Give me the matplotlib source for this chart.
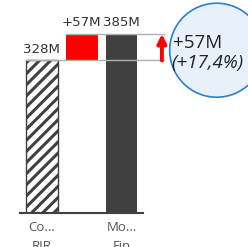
import matplotlib
matplotlib.use("Agg")
import matplotlib.pyplot as plt
from matplotlib.patches import Circle
from matplotlib.transforms import ScaledTranslation

plt.rcParams["font.family"] = ["Open Sans", "DejaVu Sans"]
plt.rcParams["hatch.linewidth"] = 2.2

categories = ["Co…\nRIR", "Mo…\nFin"]
start_value = 328
end_value = 385
delta = end_value - start_value
delta_pct = "(+17,4%)"

dark = "#404040"

fig = plt.figure(figsize=(2.48, 2.47), dpi=100)
ax = fig.add_axes([20 / 248, 34 / 247, 123 / 248, 213 / 247])
ax.set_xlim(-0.554, 2.544)
ax.set_ylim(0, 458)

# bars
ax.bar(0, start_value, width=0.8, color="white", edgecolor=dark,
       hatch="///", linewidth=1.0, zorder=2)
ax.bar(1, delta, bottom=start_value, width=0.8, color="#ff0000", zorder=2)
ax.bar(2, end_value, width=0.8, color=dark, zorder=2)

# connector lines
ax.plot([-0.4, 3.07], [start_value, start_value], color="#b0b0b0",
        lw=1.0, zorder=3, clip_on=False)
ax.plot([0.6, 3.07], [end_value, end_value], color="#b0b0b0",
        lw=1.0, zorder=3, clip_on=False)

# value labels
lab = dict(ha="center", va="bottom", fontsize=9.6, color="#333333",
           family="DejaVu Sans")
ax.text(0, start_value + 10, f"{start_value}M", **lab)
ax.text(1, end_value + 10, f"+{delta}M", **lab)
ax.text(2, end_value + 10, f"{end_value}M", **lab)

# arrow
ax.annotate("", xy=(3.02, end_value), xytext=(3.02, start_value),
            arrowprops=dict(arrowstyle="-|>", color="red", lw=2.8,
                            mutation_scale=13, shrinkA=0, shrinkB=0),
            annotation_clip=False, zorder=4)

# bubble
circ = Circle((0, 0), 0.47, transform=fig.dpi_scale_trans +
              ScaledTranslation(4.40, 350, ax.transData),
              facecolor="#e8f1fa", edgecolor="#2a7fd0", lw=1.2,
              clip_on=False, zorder=1)
ax.add_patch(circ)
ax.text(3.30, 366, f"+{delta}M", ha="left", va="center", fontsize=13.5,
        color="#222222", zorder=5, clip_on=False)
ax.text(3.25, 322, delta_pct, ha="left", va="center", fontsize=13.5,
        style="italic", color="#222222", zorder=5, clip_on=False)

# axes styling
for s in ["top", "right", "left"]:
    ax.spines[s].set_visible(False)
ax.spines["bottom"].set_color(dark)
ax.spines["bottom"].set_linewidth(1.5)
ax.set_yticks([])
ax.set_xticks([0, 2])
ax.set_xticklabels(categories, fontsize=9.5, color="#555555",
                   linespacing=1.6)
ax.tick_params(axis="x", length=0, pad=6)
ax.patch.set_alpha(0)

fig.savefig("out.png", dpi=100)
